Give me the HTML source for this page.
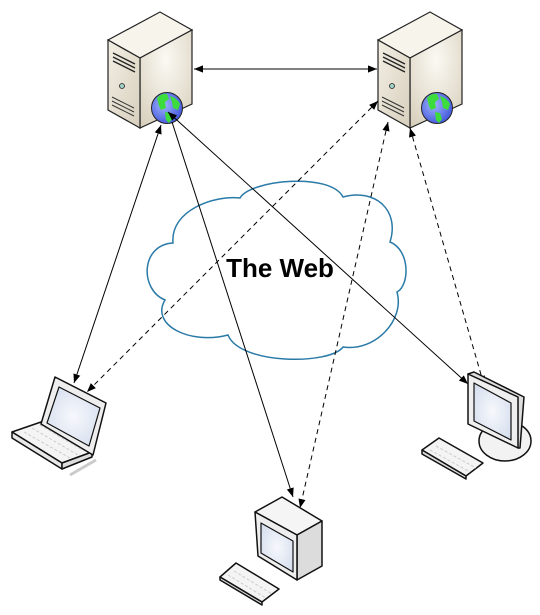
<!DOCTYPE html>
<html><head><meta charset="utf-8"><style>
html,body{margin:0;padding:0;background:#fff;}
svg{display:block;}
</style></head><body>
<svg width="540" height="615" viewBox="0 0 540 615" xmlns="http://www.w3.org/2000/svg">
<defs>
<marker id="ah" viewBox="0 0 10 10" refX="10" refY="5" markerWidth="9" markerHeight="9" orient="auto-start-reverse" markerUnits="userSpaceOnUse"><path d="M0,1 L10,5 L0,9 z" fill="#000"/></marker>
<linearGradient id="srvF" x1="0" y1="0" x2="1" y2="1"><stop offset="0" stop-color="#f3efe4"/><stop offset="1" stop-color="#d7cfbd"/></linearGradient>
<radialGradient id="srvS" cx="0.5" cy="0.3" r="0.8"><stop offset="0" stop-color="#fbf9f3"/><stop offset="1" stop-color="#d8d0bd"/></radialGradient>
<radialGradient id="glob" cx="0.4" cy="0.4" r="0.7"><stop offset="0" stop-color="#a0b4ff"/><stop offset="1" stop-color="#3a4fd6"/></radialGradient>
<radialGradient id="scr" cx="0.5" cy="0.5" r="0.7"><stop offset="0" stop-color="#f6f8fc"/><stop offset="1" stop-color="#d2dbec"/></radialGradient>
<g id="server">
<polygon points="108,40 160,12 192,30 140,58" fill="#f7f4ec" stroke="#222" stroke-width="1.2"/>
<polygon points="140,58 192,30 192,104 140,128" fill="url(#srvS)" stroke="#222" stroke-width="1.2"/>
<polygon points="108,40 140,58 140,128 108,110" fill="url(#srvF)" stroke="#222" stroke-width="1.2"/>
<path d="M113,53 L135,64 M113,57 L135,68 M113,61 L135,72" stroke="#222" stroke-width="1.3"/>
<circle cx="122" cy="86" r="2.5" fill="#9fd0c8" stroke="#222" stroke-width="0.8"/>
<path d="M112,97 L134,108 M112,101 L134,112 M112,105 L134,116" stroke="#333" stroke-width="1"/>
<circle cx="167" cy="108" r="15.5" fill="url(#glob)" stroke="#222" stroke-width="1"/>
<path d="M157,98 q4,-5 10,-4 l2,5 -4,3 1,6 -5,2 -2,-4 z M170,96 q7,2 10,8 l-2,6 -5,-2 -1,-6 z M165,112 l5,1 2,6 -3,4 -3,-3 z" fill="#3ddc3d"/>
</g>
</defs>

<use href="#server"/>
<use href="#server" transform="translate(270,0)"/>

<!-- cloud -->
<path d="M240,198 C250,180 330,172 343,197 C375,188 400,210 390,242 C410,250 410,285 397,292 C405,320 375,352 343,347 C330,365 240,365 228,335 C190,345 150,325 165,300 C140,290 140,245 173,243 C170,210 215,195 240,198 Z" fill="#fff" stroke="#2a7aa8" stroke-width="1.5"/>
<text x="280" y="277" font-family="Liberation Sans, sans-serif" font-weight="bold" font-size="26" text-anchor="middle" fill="#000">The Web</text>

<!-- connectors -->
<g stroke="#000" stroke-width="1" fill="none">
<line x1="194" y1="69" x2="377" y2="69" marker-start="url(#ah)" marker-end="url(#ah)"/>
<line x1="161" y1="125" x2="74" y2="383" marker-start="url(#ah)" marker-end="url(#ah)"/>
<line x1="172" y1="122" x2="293" y2="497" marker-end="url(#ah)"/>
<line x1="168" y1="112" x2="468" y2="384" marker-start="url(#ah)" marker-end="url(#ah)"/>
<g stroke-dasharray="5,4">
<line x1="378" y1="101" x2="87" y2="392" marker-start="url(#ah)" marker-end="url(#ah)"/>
<line x1="388" y1="122" x2="300" y2="508" marker-start="url(#ah)" marker-end="url(#ah)"/>
<line x1="410" y1="128" x2="484" y2="385" marker-start="url(#ah)" marker-end="url(#ah)"/>
</g>
</g>

<!-- laptop -->
<g stroke="#111" stroke-width="1.5" stroke-linejoin="round">
<polygon points="12,432 41,422 92,452 62,463" fill="#f4f4f4"/>
<polygon points="12,432 62,463 62,469 12,438" fill="#e8e8e8"/>
<polygon points="62,463 92,452 92,457 62,469" fill="#ddd"/>
<polygon points="55,377 106,403 93,455 41,424" fill="#eee"/>
<polygon points="59,387 100,408 89,446 47,423" fill="url(#scr)" stroke-width="1.2"/>
</g>
<path d="M24,432 L70,458 M32,428 L78,455 M40,425 L84,451" stroke="#ccc" stroke-width="1" stroke-dasharray="3,2"/>
<line x1="70" y1="475" x2="96" y2="460" stroke="#aaa" stroke-width="3" opacity="0.6"/>

<!-- right monitor -->
<g stroke="#111" stroke-width="1.5" stroke-linejoin="round">
<ellipse cx="505" cy="441" rx="26" ry="20" fill="#f2f2f2"/>
<polygon points="468,374 474,372 524,397 520,448 518,448" fill="#ddd"/>
<polygon points="468,374 518,397 518,448 468,424" fill="#efefef"/>
<polygon points="474,383 511,403 511,440 474,421" fill="url(#scr)" stroke-width="1.2"/>
<polygon points="422,450 439,438 483,463 466,476" fill="#f4f4f4"/>
<polygon points="422,450 466,476 466,479 422,454" fill="#ddd"/>
</g>
<path d="M430,450 L470,472 M436,446 L476,468" stroke="#ccc" stroke-dasharray="3,2"/>

<!-- desktop bottom -->
<g stroke="#111" stroke-width="1.5" stroke-linejoin="round">
<polygon points="255,512 282,497 322,521 297,535" fill="#f5f5f5"/>
<polygon points="297,535 322,521 322,566 297,580" fill="#dcdcdc"/>
<polygon points="255,512 297,535 297,580 258,556" fill="#eee"/>
<polygon points="261,523 293,541 293,572 261,553" fill="url(#scr)" stroke-width="1.2"/>
<polygon points="220,577 236,563 279,589 262,602" fill="#f4f4f4"/>
<polygon points="220,577 262,602 262,605 220,580" fill="#ddd"/>
</g>
<path d="M228,575 L266,598 M234,571 L272,594" stroke="#ccc" stroke-dasharray="3,2"/>
</svg>
</body></html>
